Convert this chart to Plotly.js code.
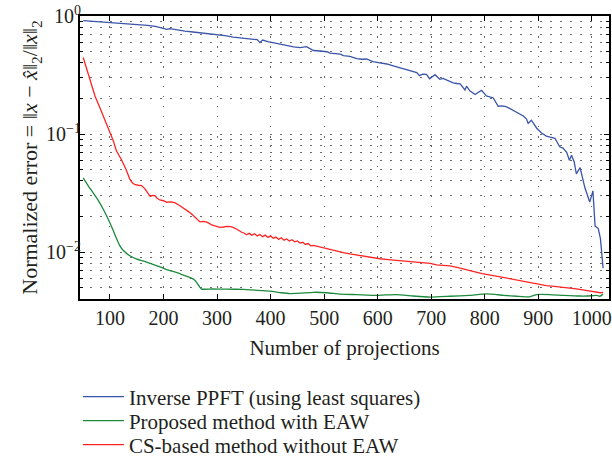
<!DOCTYPE html>
<html>
<head>
<meta charset="utf-8">
<script src="https://cdn.plot.ly/plotly-3.0.1.min.js"></script>
<style>html,body{margin:0;padding:0;background:#fff;}#chart{width:612px;height:461px;}</style>
</head>
<body>
<div id="chart"></div>
<script>
// ---- data ----
const seriesNames = ["Inverse PPFT (using least squares)", "Proposed method with EAW", "CS-based method without EAW"];

const ppftX = [50, 60, 75, 90, 100, 115, 130, 145, 156, 170, 185, 200, 206, 212, 225, 240, 255, 270, 285, 299, 315, 330, 345, 355, 365, 375, 380, 385, 395, 405, 420, 443, 455, 467, 472, 480, 492, 505, 511, 523, 530, 536, 548, 561, 570, 579, 591, 604, 617, 629, 641, 655, 667, 673, 678, 684, 691, 697, 707, 716, 722, 729, 741, 748, 754, 763, 766, 772, 782, 788, 794, 803, 810, 816, 825, 833, 841, 853, 866, 872, 878, 881, 887, 897, 906, 915, 922, 931, 940, 946, 953, 958, 962, 967, 971, 978, 987, 996, 1002, 1006, 1012, 1016, 1021];
const ppftY = [0.912, 0.905, 0.902, 0.889, 0.872, 0.873, 0.860, 0.850, 0.838, 0.833, 0.815, 0.790, 0.770, 0.782, 0.760, 0.745, 0.732, 0.718, 0.712, 0.690, 0.682, 0.662, 0.650, 0.640, 0.634, 0.630, 0.595, 0.625, 0.606, 0.590, 0.575, 0.548, 0.540, 0.550, 0.535, 0.510, 0.505, 0.498, 0.484, 0.482, 0.476, 0.462, 0.455, 0.436, 0.430, 0.432, 0.410, 0.400, 0.392, 0.378, 0.366, 0.352, 0.340, 0.332, 0.312, 0.322, 0.320, 0.294, 0.318, 0.291, 0.296, 0.285, 0.271, 0.268, 0.266, 0.236, 0.254, 0.232, 0.216, 0.226, 0.234, 0.210, 0.204, 0.202, 0.172, 0.173, 0.170, 0.158, 0.148, 0.142, 0.134, 0.123, 0.131, 0.112, 0.102, 0.096, 0.094, 0.092, 0.078, 0.076, 0.070, 0.060, 0.066, 0.058, 0.046, 0.052, 0.035, 0.0265, 0.033, 0.0166, 0.0158, 0.0130, 0.0073];

const proposedX = [50, 60, 69, 80, 88, 100, 106, 112, 118, 125, 137, 150, 162, 175, 193, 206, 225, 240, 252, 258, 262, 267, 271, 290, 318, 349, 375, 399, 420, 436, 455, 480, 505, 530, 561, 598, 635, 666, 698, 735, 772, 803, 835, 860, 884, 897, 921, 946, 977, 1000, 1008, 1015, 1021];
const proposedY = [0.0425, 0.036, 0.0315, 0.0265, 0.0228, 0.0176, 0.0152, 0.0131, 0.0114, 0.0103, 0.0093, 0.0087, 0.0084, 0.0080, 0.0075, 0.0071, 0.0067, 0.0063, 0.0060, 0.0058, 0.0055, 0.0051, 0.00485, 0.00486, 0.00485, 0.00482, 0.00474, 0.00466, 0.00452, 0.00445, 0.00448, 0.00456, 0.00452, 0.00440, 0.00436, 0.00430, 0.00436, 0.00424, 0.00415, 0.00422, 0.00430, 0.00442, 0.00430, 0.00422, 0.00417, 0.00436, 0.00436, 0.00430, 0.00424, 0.00426, 0.00430, 0.00422, 0.00440];

const csX = [50, 56, 63, 72, 80, 88, 95, 100, 106, 112, 118, 122, 130, 137, 142, 147, 153, 159, 165, 170, 175, 180, 184, 188, 193, 200, 206, 214, 221, 230, 240, 248, 256, 262, 268, 275, 281, 290, 298, 305, 312, 318, 325, 330, 337, 342, 346, 350, 355, 360, 365, 370, 375, 380, 385, 390, 395, 400, 405, 410, 415, 420, 425, 430, 435, 440, 445, 450, 455, 460, 465, 470, 475, 480, 490, 498, 508, 517, 527, 536, 548, 561, 574, 586, 595, 604, 620, 635, 650, 666, 682, 698, 710, 722, 735, 748, 760, 772, 785, 795, 803, 812, 822, 835, 847, 860, 872, 885, 897, 906, 915, 930, 946, 958, 971, 983, 996, 1008, 1016, 1021];
const csY = [0.445, 0.36, 0.285, 0.210, 0.172, 0.139, 0.118, 0.100, 0.088, 0.072, 0.0655, 0.060, 0.050, 0.0415, 0.0385, 0.0372, 0.0368, 0.0366, 0.0345, 0.0320, 0.0296, 0.0302, 0.0300, 0.0285, 0.0276, 0.0272, 0.0264, 0.0266, 0.0262, 0.0248, 0.0232, 0.0218, 0.0203, 0.0190, 0.0180, 0.0182, 0.0179, 0.0170, 0.0166, 0.0162, 0.0163, 0.0165, 0.0164, 0.0162, 0.0156, 0.0150, 0.0147, 0.0145, 0.0140, 0.0144, 0.0139, 0.0143, 0.0137, 0.0141, 0.0135, 0.0139, 0.0133, 0.0137, 0.0131, 0.0134, 0.0128, 0.0132, 0.0126, 0.0129, 0.0124, 0.0127, 0.0122, 0.0124, 0.0119, 0.0121, 0.0116, 0.0118, 0.0113, 0.0114, 0.0111, 0.0108, 0.0106, 0.0104, 0.0101, 0.00990, 0.00965, 0.00945, 0.00915, 0.00895, 0.00882, 0.00877, 0.00862, 0.00850, 0.00835, 0.00820, 0.00812, 0.00800, 0.00778, 0.00770, 0.00762, 0.00740, 0.00715, 0.00690, 0.00668, 0.00655, 0.00648, 0.00636, 0.00625, 0.00610, 0.00597, 0.00580, 0.00566, 0.00550, 0.00537, 0.00528, 0.00520, 0.00512, 0.00504, 0.00495, 0.00487, 0.00478, 0.00466, 0.00458, 0.00452, 0.00455];

const xTickVals = [100, 200, 300, 400, 500, 600, 700, 800, 900, 1000];
const yTickVals = [0.01, 0.1, 1];
const yTickText = ["10<sup>\u22122</sup>", "10<sup>\u22121</sup>", "10<sup>0</sup>"];
const yMinorVals = [0.004, 0.005, 0.006, 0.007, 0.008, 0.009, 0.02, 0.03, 0.04, 0.05, 0.06, 0.07, 0.08, 0.09, 0.2, 0.3, 0.4, 0.5, 0.6, 0.7, 0.8, 0.9];

const xTitle = "Number of projections";
const yTitle = "Normalized error = \u2016<i>x</i> \u2212 <i>x\u0302</i>\u2016<sub>2</sub>/\u2016<i>x</i>\u2016<sub>2</sub>";

// ---- drawing ----
const FONT = "Liberation Serif, Times New Roman, serif";
const TXT = "#231f20";
const GRID = "#6a6a6a";
const DOT = "1.5px,8.5px";

const traces = [
  {x: ppftX, y: ppftY, name: seriesNames[0], legend: "legend", mode: "lines", line: {color: "#3a55a8", width: 1.3}},
  {x: proposedX, y: proposedY, name: seriesNames[1], legend: "legend2", mode: "lines", line: {color: "#1d8a3e", width: 1.3, shape: "spline", smoothing: 0.4}},
  {x: csX, y: csY, name: seriesNames[2], legend: "legend3", mode: "lines", line: {color: "#ff2424", width: 1.3}}
];

// paper y for a pixel row, plot area spans rows 16..299
function py(row) { return (299 - row) / 283; }
function legendAt(row) {
  return {x: -0.004, xanchor: "left", y: py(row), yanchor: "middle", orientation: "v",
          itemwidth: 41, font: {family: FONT, size: 21, color: TXT}, bgcolor: "rgba(0,0,0,0)", borderwidth: 0};
}

const layout = {
  width: 612, height: 461,
  margin: {l: 80, r: 3, t: 16, b: 162, autoexpand: false},
  paper_bgcolor: "#ffffff", plot_bgcolor: "#ffffff",
  font: {family: FONT, color: TXT, size: 18},
  showlegend: true,
  legend: legendAt(397),
  legend2: legendAt(421),
  legend3: legendAt(445),
  xaxis: {
    range: [44, 1032], tickmode: "array", tickvals: xTickVals,
    ticks: "inside", ticklen: 5, tickwidth: 1, tickcolor: "#000",
    showline: true, linecolor: "#000", linewidth: 2, mirror: "ticks",
    showgrid: true, gridcolor: GRID, gridwidth: 1, griddash: DOT,
    zeroline: false, tickfont: {size: 20},
    title: {text: xTitle, font: {size: 21}, standoff: 12}
  },
  yaxis: {
    type: "log", range: [-2.398, 0], tickmode: "array", tickvals: yTickVals, ticktext: yTickText,
    ticks: "inside", ticklen: 5, tickwidth: 1, tickcolor: "#000",
    showline: true, linecolor: "#000", linewidth: 2, mirror: "ticks",
    showgrid: true, gridcolor: GRID, gridwidth: 1, griddash: DOT,
    zeroline: false, tickfont: {size: 20}, ticklabelstandoff: -7,
    minor: {tickmode: "array", tickvals: yMinorVals, ticks: "inside", ticklen: 3, tickcolor: "#000",
            showgrid: true, gridcolor: GRID, gridwidth: 1, griddash: DOT},
    title: {text: yTitle, font: {size: 22}, standoff: 2}
  }
};

Plotly.newPlot("chart", traces, layout, {staticPlot: true, displayModeBar: false});
</script>
</body>
</html>
